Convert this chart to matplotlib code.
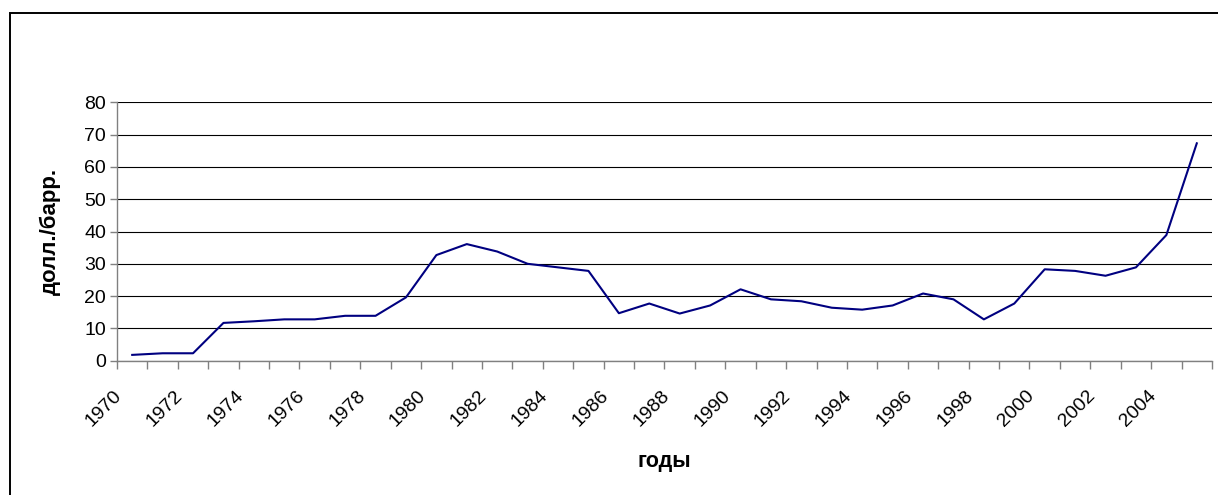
import numpy as np
import matplotlib
matplotlib.use("Agg")
import matplotlib.pyplot as plt
from matplotlib.patches import Rectangle
from matplotlib.transforms import ScaledTranslation

plt.rcParams['font.family'] = ['Liberation Sans', 'DejaVu Sans']

years = list(range(1970, 2006))
price = [1.8, 2.3, 2.3, 11.7, 12.2, 12.8, 12.8, 13.9, 13.9, 19.6,
         32.7, 36.1, 33.8, 30.0, 28.9, 27.8, 14.7, 17.7, 14.6, 17.1,
         22.1, 19.0, 18.4, 16.4, 15.8, 17.1, 20.8, 19.0, 12.8, 17.7,
         28.3, 27.8, 26.3, 28.9, 38.9, 67.3]
label_years = years[::2]

fig = plt.figure(figsize=(12.18, 4.95), dpi=100)
ax = fig.add_axes([117/1218, 1-360.7/495, 1095/1218, 258.4/495])

x = np.arange(len(years))
ax.plot(x, price, color='#000080', lw=1.5)

ax.set_xlim(-0.5, len(years)-0.5)
ax.set_ylim(0, 80)
ax.set_yticks(range(0, 81, 10))
ax.grid(axis='y', color='black', lw=0.8)
ax.set_axisbelow(True)

# tick marks between categories, labels on every second category
ax.set_xticks(np.arange(len(years)+1) - 0.5)
ax.set_xticklabels([])
ax.set_xticks(x[::2], minor=True)
ax.set_xticklabels([str(y) for y in label_years], minor=True,
                   rotation=45, ha='right', va='top', rotation_mode='anchor',
                   fontsize=14)
ax.tick_params(axis='x', which='major', direction='out', length=6, color='#808080', width=1)
ax.tick_params(axis='x', which='minor', length=0, pad=19)
ax.tick_params(axis='y', direction='out', length=5, color='#808080', width=1, labelsize=14, pad=3)
off = ScaledTranslation(-0.19, 0, fig.dpi_scale_trans)
for lbl in ax.get_xticklabels(minor=True):
    lbl.set_transform(lbl.get_transform() + off)

for s in ['top', 'right']:
    ax.spines[s].set_visible(False)
ax.spines['left'].set_color('#808080')
ax.spines['bottom'].set_color('#808080')
ax.spines['left'].set_linewidth(1)
ax.spines['bottom'].set_linewidth(1)

ax.set_ylabel('долл./барр.', fontsize=16, fontweight='bold', va='center')
ax.yaxis.set_label_coords(-0.061, 0.5)
ax.set_xlabel('годы', fontsize=15.5, fontweight='bold', va='center')
ax.xaxis.set_label_coords(0.5, -0.392)

# chart area frame (cut off at the right and bottom)
fig.patches.append(Rectangle((9.5/1218, -0.1), 1.2, 1.1 - 12.5/495,
                             transform=fig.transFigure, fill=False,
                             ec='black', lw=1.4))

fig.savefig('out.png', dpi=100)
